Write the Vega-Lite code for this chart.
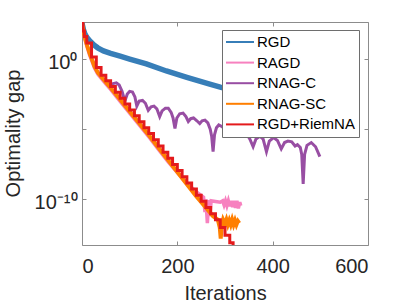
{
  "$schema": "https://vega.github.io/schema/vega-lite/v6.json",
  "width": 286,
  "height": 223,
  "autosize": {"type": "none"},
  "padding": {"left": 82, "top": 22, "right": 39, "bottom": 60},
  "config": {
    "view": {"stroke": "#8c8c8c", "strokeWidth": 1},
    "font": "Liberation Sans",
    "axis": {
      "grid": false, "domain": false, "tickColor": "#8c8c8c", "tickSize": -4,
      "labelColor": "#262626", "titleColor": "#262626", "labelFontSize": 20, "titleFontSize": 20,
      "titleFontWeight": "normal", "labelFont": "Liberation Sans", "titleFont": "Liberation Sans"
    }
  },
  "data": {"values": [
    {"method":"RGD","iter":0,"gap":355},{"method":"RGD","iter":3,"gap":126},{"method":"RGD","iter":6,"gap":63.1},{"method":"RGD","iter":10,"gap":35.5},{"method":"RGD","iter":16,"gap":19.95},{"method":"RGD","iter":25,"gap":10},{"method":"RGD","iter":33,"gap":6.31},{"method":"RGD","iter":45,"gap":3.8},{"method":"RGD","iter":60,"gap":2.51},{"method":"RGD","iter":80,"gap":1.585},{"method":"RGD","iter":100,"gap":1.0},{"method":"RGD","iter":135,"gap":0.447},{"method":"RGD","iter":177,"gap":0.141},{"method":"RGD","iter":220,"gap":0.0501},{"method":"RGD","iter":268,"gap":0.0166},{"method":"RGD","iter":290,"gap":0.01},{"method":"RGD","iter":330,"gap":0.00447},{"method":"RGD","iter":380,"gap":0.00178},{"method":"RGD","iter":430,"gap":7.94e-4},{"method":"RGD","iter":500,"gap":2.82e-4},

    {"method":"RAGD","iter":0,"gap":355},{"method":"RAGD","iter":2,"gap":141},{"method":"RAGD","iter":5,"gap":35.5},{"method":"RAGD","iter":10,"gap":8.91},{"method":"RAGD","iter":16,"gap":1.91},{"method":"RAGD","iter":20,"gap":0.851},{"method":"RAGD","iter":26,"gap":0.24},{"method":"RAGD","iter":33,"gap":0.0851},{"method":"RAGD","iter":40,"gap":0.0427},{"method":"RAGD","iter":50,"gap":0.017},{"method":"RAGD","iter":60,"gap":6.76e-3},{"method":"RAGD","iter":80,"gap":9.77e-4},{"method":"RAGD","iter":100,"gap":1.41e-4},{"method":"RAGD","iter":120,"gap":2.04e-5},{"method":"RAGD","iter":142,"gap":2.4e-6},{"method":"RAGD","iter":160,"gap":3.8e-7},{"method":"RAGD","iter":180,"gap":5.13e-8},{"method":"RAGD","iter":200,"gap":7.94e-9},{"method":"RAGD","iter":215,"gap":2.24e-9},{"method":"RAGD","iter":230,"gap":7.08e-10},{"method":"RAGD","iter":245,"gap":2.51e-10},{"method":"RAGD","iter":255,"gap":1.41e-10},{"method":"RAGD","iter":258,"gap":1.26e-11},{"method":"RAGD","iter":260,"gap":1.0e-10},{"method":"RAGD","iter":263,"gap":2.0e-12},{"method":"RAGD","iter":266,"gap":8.91e-11},{"method":"RAGD","iter":268,"gap":6.31e-12},{"method":"RAGD","iter":271,"gap":7.94e-11},{"method":"RAGD","iter":280,"gap":7.08e-11},{"method":"RAGD","iter":290,"gap":6.31e-11},{"method":"RAGD","iter":295,"gap":7.94e-11},{"method":"RAGD","iter":298,"gap":3.98e-11},{"method":"RAGD","iter":301,"gap":7.94e-11},{"method":"RAGD","iter":304,"gap":3.55e-11},{"method":"RAGD","iter":307,"gap":7.94e-11},{"method":"RAGD","iter":310,"gap":3.16e-11},{"method":"RAGD","iter":313,"gap":7.94e-11},{"method":"RAGD","iter":316,"gap":2.82e-11},{"method":"RAGD","iter":319,"gap":7.94e-11},{"method":"RAGD","iter":322,"gap":2.51e-11},{"method":"RAGD","iter":325,"gap":7.94e-11},{"method":"RAGD","iter":328,"gap":2.24e-11},{"method":"RAGD","iter":331,"gap":6.31e-11},{"method":"RAGD","iter":333,"gap":3.55e-11},

    {"method":"RNAG-C","iter":0,"gap":355},{"method":"RNAG-C","iter":5,"gap":44.7},{"method":"RNAG-C","iter":10,"gap":11.2},{"method":"RNAG-C","iter":16,"gap":2.51},{"method":"RNAG-C","iter":20,"gap":1.12},{"method":"RNAG-C","iter":26,"gap":0.316},{"method":"RNAG-C","iter":33,"gap":0.112},{"method":"RNAG-C","iter":40,"gap":0.0562},{"method":"RNAG-C","iter":50,"gap":0.0251},{"method":"RNAG-C","iter":58,"gap":0.0141},{"method":"RNAG-C","iter":65,"gap":0.0178},{"method":"RNAG-C","iter":72,"gap":0.02},{"method":"RNAG-C","iter":78,"gap":0.0141},{"method":"RNAG-C","iter":84,"gap":5.01e-3},{"method":"RNAG-C","iter":90,"gap":1e-3},{"method":"RNAG-C","iter":95,"gap":3.16e-3},{"method":"RNAG-C","iter":100,"gap":5.01e-3},{"method":"RNAG-C","iter":106,"gap":4.47e-3},{"method":"RNAG-C","iter":111,"gap":2.0e-3},{"method":"RNAG-C","iter":115,"gap":4.47e-4},{"method":"RNAG-C","iter":120,"gap":1e-3},{"method":"RNAG-C","iter":127,"gap":1.12e-3},{"method":"RNAG-C","iter":133,"gap":7.08e-4},{"method":"RNAG-C","iter":139,"gap":2.24e-4},{"method":"RNAG-C","iter":145,"gap":3.98e-4},{"method":"RNAG-C","iter":151,"gap":4.47e-4},{"method":"RNAG-C","iter":157,"gap":2.82e-4},{"method":"RNAG-C","iter":163,"gap":7.94e-5},{"method":"RNAG-C","iter":168,"gap":2.0e-4},{"method":"RNAG-C","iter":175,"gap":3.16e-4},{"method":"RNAG-C","iter":181,"gap":3.16e-4},{"method":"RNAG-C","iter":187,"gap":1.58e-4},{"method":"RNAG-C","iter":191,"gap":6.31e-5},{"method":"RNAG-C","iter":195,"gap":1.12e-5},{"method":"RNAG-C","iter":199,"gap":6.31e-5},{"method":"RNAG-C","iter":205,"gap":1.26e-4},{"method":"RNAG-C","iter":212,"gap":1.41e-4},{"method":"RNAG-C","iter":218,"gap":7.94e-5},{"method":"RNAG-C","iter":223,"gap":3.55e-5},{"method":"RNAG-C","iter":228,"gap":5.62e-5},{"method":"RNAG-C","iter":234,"gap":6.31e-5},{"method":"RNAG-C","iter":241,"gap":3.98e-5},{"method":"RNAG-C","iter":247,"gap":2.51e-5},{"method":"RNAG-C","iter":252,"gap":3.98e-5},{"method":"RNAG-C","iter":258,"gap":4.47e-5},{"method":"RNAG-C","iter":264,"gap":2.82e-5},{"method":"RNAG-C","iter":269,"gap":1e-5},{"method":"RNAG-C","iter":272,"gap":3.16e-6},{"method":"RNAG-C","iter":275,"gap":2.51e-7},{"method":"RNAG-C","iter":278,"gap":3.98e-6},{"method":"RNAG-C","iter":282,"gap":1.26e-5},{"method":"RNAG-C","iter":287,"gap":2.0e-5},{"method":"RNAG-C","iter":293,"gap":1.58e-5},{"method":"RNAG-C","iter":300,"gap":1e-5},{"method":"RNAG-C","iter":307,"gap":3.98e-6},{"method":"RNAG-C","iter":313,"gap":8.91e-6},{"method":"RNAG-C","iter":320,"gap":1.12e-5},{"method":"RNAG-C","iter":328,"gap":1.12e-5},{"method":"RNAG-C","iter":335,"gap":7.94e-6},{"method":"RNAG-C","iter":345,"gap":5.01e-6},{"method":"RNAG-C","iter":352,"gap":2.0e-6},{"method":"RNAG-C","iter":359,"gap":5.62e-7},{"method":"RNAG-C","iter":365,"gap":2.0e-6},{"method":"RNAG-C","iter":373,"gap":3.16e-6},{"method":"RNAG-C","iter":380,"gap":2.0e-6},{"method":"RNAG-C","iter":387,"gap":2.51e-7},{"method":"RNAG-C","iter":393,"gap":1.41e-6},{"method":"RNAG-C","iter":402,"gap":2.51e-6},{"method":"RNAG-C","iter":410,"gap":1.58e-6},{"method":"RNAG-C","iter":418,"gap":3.98e-7},{"method":"RNAG-C","iter":425,"gap":1.12e-6},{"method":"RNAG-C","iter":432,"gap":1.41e-6},{"method":"RNAG-C","iter":440,"gap":1.26e-6},{"method":"RNAG-C","iter":447,"gap":6.31e-7},{"method":"RNAG-C","iter":452,"gap":7.94e-7},{"method":"RNAG-C","iter":458,"gap":5.01e-7},{"method":"RNAG-C","iter":461,"gap":1.58e-7},{"method":"RNAG-C","iter":464,"gap":1.26e-9},{"method":"RNAG-C","iter":467,"gap":1.58e-7},{"method":"RNAG-C","iter":472,"gap":7.08e-7},{"method":"RNAG-C","iter":481,"gap":1.12e-6},{"method":"RNAG-C","iter":490,"gap":5.62e-7},{"method":"RNAG-C","iter":499,"gap":1.12e-7},

    {"method":"RNAG-SC","iter":0,"gap":355},{"method":"RNAG-SC","iter":2,"gap":158},{"method":"RNAG-SC","iter":5,"gap":44.7},{"method":"RNAG-SC","iter":10,"gap":11.2},{"method":"RNAG-SC","iter":16,"gap":2.51},{"method":"RNAG-SC","iter":20,"gap":1.12},{"method":"RNAG-SC","iter":26,"gap":0.316},{"method":"RNAG-SC","iter":33,"gap":0.112},{"method":"RNAG-SC","iter":40,"gap":0.0562},{"method":"RNAG-SC","iter":50,"gap":0.0224},{"method":"RNAG-SC","iter":60,"gap":0.00891},{"method":"RNAG-SC","iter":80,"gap":1.29e-3},{"method":"RNAG-SC","iter":100,"gap":1.86e-4},{"method":"RNAG-SC","iter":120,"gap":2.69e-5},{"method":"RNAG-SC","iter":142,"gap":3.16e-6},{"method":"RNAG-SC","iter":160,"gap":5.01e-7},{"method":"RNAG-SC","iter":180,"gap":6.76e-8},{"method":"RNAG-SC","iter":200,"gap":8.91e-9},{"method":"RNAG-SC","iter":220,"gap":1.17e-9},{"method":"RNAG-SC","iter":240,"gap":1.58e-10},{"method":"RNAG-SC","iter":260,"gap":2.51e-11},{"method":"RNAG-SC","iter":275,"gap":6.31e-12},{"method":"RNAG-SC","iter":285,"gap":3.55e-12},{"method":"RNAG-SC","iter":289,"gap":1.0e-12},{"method":"RNAG-SC","iter":291,"gap":1.58e-13},{"method":"RNAG-SC","iter":293,"gap":1.26e-12},{"method":"RNAG-SC","iter":296,"gap":3.55e-12},{"method":"RNAG-SC","iter":300,"gap":1.78e-12},{"method":"RNAG-SC","iter":303,"gap":3.55e-12},{"method":"RNAG-SC","iter":306,"gap":1.58e-12},{"method":"RNAG-SC","iter":309,"gap":3.16e-12},{"method":"RNAG-SC","iter":312,"gap":1.58e-12},{"method":"RNAG-SC","iter":315,"gap":3.55e-12},{"method":"RNAG-SC","iter":318,"gap":1.58e-12},{"method":"RNAG-SC","iter":321,"gap":3.16e-12},{"method":"RNAG-SC","iter":324,"gap":1.58e-12},{"method":"RNAG-SC","iter":327,"gap":2.82e-12},{"method":"RNAG-SC","iter":330,"gap":2.0e-12},

    {"method":"RGD+RiemNA","iter":0,"gap":355},{"method":"RGD+RiemNA","iter":2,"gap":100},{"method":"RGD+RiemNA","iter":5,"gap":39.8},{"method":"RGD+RiemNA","iter":10,"gap":14.1},{"method":"RGD+RiemNA","iter":20,"gap":1.41},{"method":"RGD+RiemNA","iter":30,"gap":0.251},{"method":"RGD+RiemNA","iter":40,"gap":0.0708},{"method":"RGD+RiemNA","iter":50,"gap":0.0282},{"method":"RGD+RiemNA","iter":60,"gap":0.0112},{"method":"RGD+RiemNA","iter":70,"gap":4.27e-3},{"method":"RGD+RiemNA","iter":80,"gap":1.62e-3},{"method":"RGD+RiemNA","iter":90,"gap":6.17e-4},{"method":"RGD+RiemNA","iter":100,"gap":2.34e-4},{"method":"RGD+RiemNA","iter":110,"gap":8.91e-5},{"method":"RGD+RiemNA","iter":120,"gap":3.39e-5},{"method":"RGD+RiemNA","iter":130,"gap":1.29e-5},{"method":"RGD+RiemNA","iter":140,"gap":4.9e-6},{"method":"RGD+RiemNA","iter":150,"gap":1.74e-6},{"method":"RGD+RiemNA","iter":160,"gap":6.31e-7},{"method":"RGD+RiemNA","iter":170,"gap":2.29e-7},{"method":"RGD+RiemNA","iter":180,"gap":8.51e-8},{"method":"RGD+RiemNA","iter":190,"gap":3.09e-8},{"method":"RGD+RiemNA","iter":200,"gap":1.12e-8},{"method":"RGD+RiemNA","iter":210,"gap":4.07e-9},{"method":"RGD+RiemNA","iter":220,"gap":1.48e-9},{"method":"RGD+RiemNA","iter":230,"gap":5.37e-10},{"method":"RGD+RiemNA","iter":240,"gap":2.0e-10},{"method":"RGD+RiemNA","iter":250,"gap":7.24e-11},{"method":"RGD+RiemNA","iter":260,"gap":2.63e-11},{"method":"RGD+RiemNA","iter":270,"gap":9.55e-12},{"method":"RGD+RiemNA","iter":280,"gap":3.55e-12},{"method":"RGD+RiemNA","iter":290,"gap":1.0e-12},{"method":"RGD+RiemNA","iter":300,"gap":2.82e-13},{"method":"RGD+RiemNA","iter":310,"gap":7.94e-14},{"method":"RGD+RiemNA","iter":317,"gap":1e-14}
  ]},
  "encoding": {
    "color": {
      "field": "method", "type": "nominal",
      "scale": {"domain": ["RGD", "RAGD", "RNAG-C", "RNAG-SC", "RGD+RiemNA"], "range": ["#377eb8", "#f781bf", "#984ea3", "#ff7f00", "#e41a1c"]},
      "legend": {"title": null, "orient": "none", "legendX": 140, "legendY": 8, "symbolType": "M-2,0H2", "symbolSize": 196, "symbolOffset": 6, "symbolStrokeWidth": 2, "labelFontSize": 15, "labelColor": "#000000", "fillColor": "#ffffff", "strokeColor": "#6e6e6e", "padding": 4, "rowPadding": 4.6, "labelOffset": 9}
    }
  },
  "layer": [
    {
      "transform": [{"filter": "datum.method == 'RGD'"}],
      "mark": {"type": "line", "clip": true, "strokeWidth": 5.5},
      "encoding": {
        "x": {"field": "iter", "type": "quantitative", "scale": {"domain": [0, 600], "nice": false},
          "axis": {"orient": "bottom", "values": [0, 200, 400, 600], "title": "Iterations", "labelBaseline": "alphabetic", "labelPadding": 31.7, "titleX": 143, "titleY": 54, "titleAlign": "center", "titleBaseline": "alphabetic"}},
        "y": {"field": "gap", "type": "quantitative", "scale": {"type": "log", "domain": [5.6e-14, 436], "nice": false},
          "axis": {"orient": "left", "values": [1e-10, 1e-5, 1], "labelExpr": "datum.value > 0.5 ? '10⁰' : (datum.value < 1e-7 ? '10⁻¹⁰' : '')", "labelPadding": 9, "labelOffset": 3, "title": "Optimality gap", "titleX": -63, "titleY": 111, "titleAngle": 270, "titleAlign": "center", "titleBaseline": "alphabetic"}}
      }
    },
    {
      "transform": [{"filter": "datum.method == 'RAGD'"}],
      "mark": {"type": "line", "clip": true, "strokeWidth": 3.5},
      "encoding": {
        "x": {"field": "iter", "type": "quantitative", "axis": {"orient": "top", "values": [0, 200, 400, 600], "labels": false, "title": null}},
        "y": {"field": "gap", "type": "quantitative", "axis": {"orient": "right", "values": [1e-10, 1e-5, 1], "labels": false, "title": null}}
      }
    },
    {
      "transform": [{"filter": "datum.method == 'RNAG-C'"}],
      "mark": {"type": "line", "clip": true, "strokeWidth": 3},
      "encoding": {
        "x": {"field": "iter", "type": "quantitative", "axis": null},
        "y": {"field": "gap", "type": "quantitative", "axis": null}
      }
    },
    {
      "transform": [{"filter": "datum.method == 'RNAG-SC'"}],
      "mark": {"type": "line", "clip": true, "strokeWidth": 4},
      "encoding": {
        "x": {"field": "iter", "type": "quantitative", "axis": null},
        "y": {"field": "gap", "type": "quantitative", "axis": null}
      }
    },
    {
      "transform": [{"filter": "datum.method == 'RGD+RiemNA'"}],
      "mark": {"type": "line", "clip": true, "strokeWidth": 3, "interpolate": "step-after"},
      "encoding": {
        "x": {"field": "iter", "type": "quantitative", "axis": null},
        "y": {"field": "gap", "type": "quantitative", "axis": null}
      }
    }
  ],
  "resolve": {"axis": {"x": "independent", "y": "independent"}}
}
